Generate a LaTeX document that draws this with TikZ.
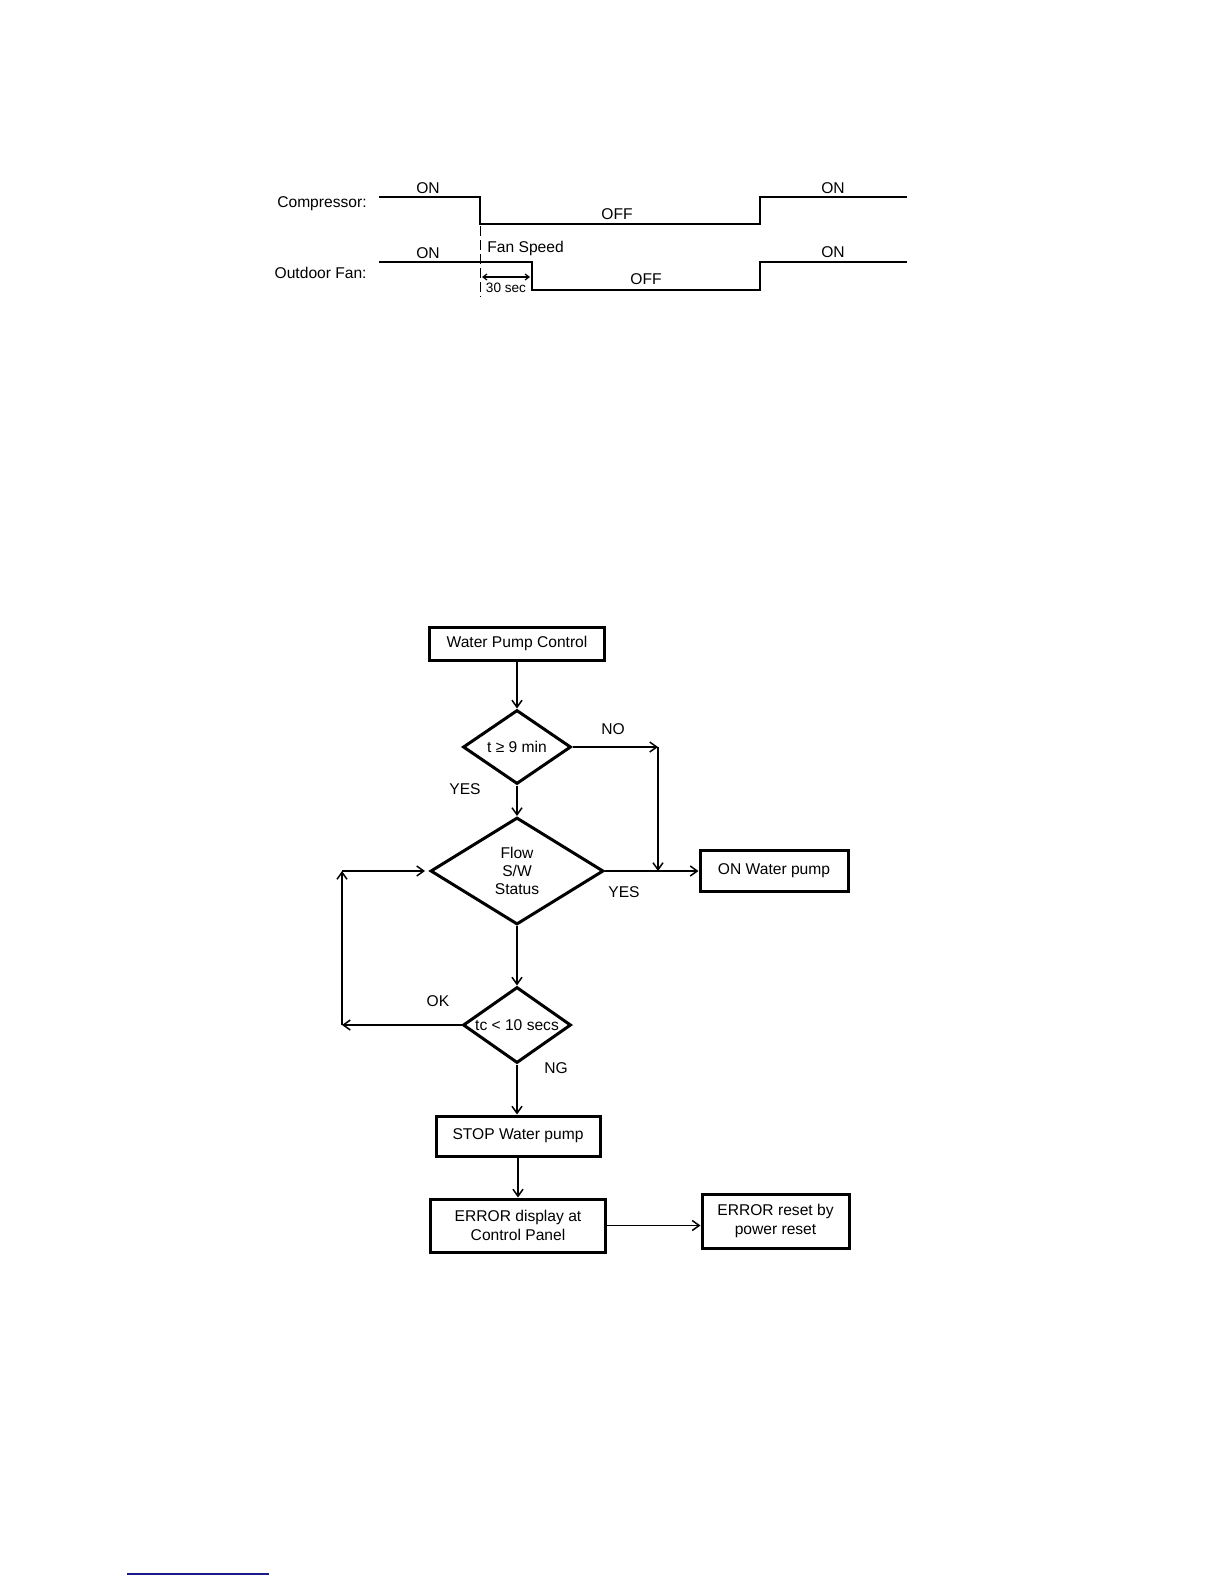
\documentclass[tikz,border=0pt]{standalone}
\usepackage{fontspec}
\setmainfont{Liberation Sans}
\usetikzlibrary{positioning,calc,arrows.meta,shapes.geometric}
\usepackage{xcolor}
\definecolor{rulecol}{HTML}{1A1A8C}

\begin{document}
\begin{tikzpicture}[x=0.5pt,y=-0.5pt,>={Straight Barb[length=3.5pt,width=5pt]},
      font=\fontsize{7.8}{9.2}\selectfont,
      box/.style={draw,line width=1.5pt,align=center,inner sep=2pt},
      decision/.style={draw,diamond,shape aspect=1.4,line width=1.5pt,
                       align=center,inner sep=0pt},
      flow/.style={->,line width=0.75pt},
      wave/.style={line width=0.8pt},
      lbl/.style={inner sep=0pt}]
    \useasboundingbox (0,0) rectangle (1224,1584);

    % timing chart
    \node[lbl,anchor=east] (comp) at (367,204) {Compressor:};
    \node[lbl,anchor=east] (ofan) at (367,273) {Outdoor Fan:};
    \draw[wave] (379,197) -- (480,197) -- (480,224) -- (760,224) -- (760,197) -- (907,197);
    \draw[wave] (379,262) -- (532,262) -- (532,290) -- (760,290) -- (760,262) -- (907,262);
    \draw[line width=0.5pt,dash pattern=on 5pt off 2pt] (480,226) -- (480,297);
    \draw[{Straight Barb[length=2pt,width=3pt]}-{Straight Barb[length=2pt,width=3pt]},line width=0.6pt]
      (482,277) -- (530,277);
    \node[lbl] (on1) at (428,188) {ON};
    \node[lbl] (on2) at (833,188) {ON};
    \node[lbl] (off1) at (617,214) {OFF};
    \node[lbl] (on3) at (428,253) {ON};
    \node[lbl] (on4) at (833,252) {ON};
    \node[lbl] (off2) at (646,279) {OFF};
    \node[lbl,anchor=west] (fspd) at (487,248) {Fan Speed};
    \node[lbl,font=\fontsize{6.8}{8}\selectfont] (sec) at (506,288) {30 sec};

    % flow chart
    \node[box,minimum width=87.5pt,minimum height=16.5pt] (wpc) at (517,643.5) {Water Pump Control};
    \node[decision,minimum width=54pt,minimum height=37pt] (tmin) at (517,747) {t ≥ 9 min};
    \node[decision,minimum width=86.5pt,minimum height=53.5pt] (flowsw) at (517,871) {Flow\\S/W\\Status};
    \node[box,minimum width=74pt,minimum height=20.5pt] (onpump) at (774,871) {ON Water pump};
    \node[decision,minimum width=54pt,minimum height=38pt] (tc) at (517,1025) {tc < 10 secs};
    \node[box,minimum width=82pt,minimum height=20pt] (stop) at (518,1136) {STOP Water pump};
    \node[box,minimum width=87.5pt,minimum height=26.5pt] (err) at (518,1225.5) {ERROR display at\\Control Panel};
    \node[box,minimum width=73.5pt,minimum height=27pt] (reset) at (775.5,1221) {ERROR reset by\\power reset};

    \node[lbl] (no) at (613,729) {NO};
    \node[lbl] (yes1) at (465,789) {YES};
    \node[lbl] (yes2) at (624,892) {YES};
    \node[lbl] (ok) at (438,1001) {OK};
    \node[lbl] (ng) at (556,1068) {NG};

    \coordinate (cno) at (658,747);
    \coordinate (cok) at (342,1025);
    \coordinate (cup) at (342,871);

    \draw[flow] (wpc.south) -- (tmin.north);
    \draw[flow] (tmin.south) -- (flowsw.north);
    \draw[flow] (tmin.east) -- (cno);
    \draw[flow] (cno) -- (cno |- flowsw.east);
    \draw[flow] (flowsw.east) -- (onpump.west);
    \draw[flow] (flowsw.south) -- (tc.north);
    \draw[flow] (tc.west) -- (cok);
    \draw[flow] (cok) -- (cup);
    \draw[flow,shorten >=2pt] (cup) -- (flowsw.west);
    \draw[flow] (tc.south) -- (tc.south |- stop.north);
    \draw[flow] (stop.south) -- (err.north);
    \draw[flow] (err.east) -- (err.east -| reset.west);

    \draw[rulecol,line width=1pt] (127,1574) -- (269,1574);
  \end{tikzpicture}
\end{document}
